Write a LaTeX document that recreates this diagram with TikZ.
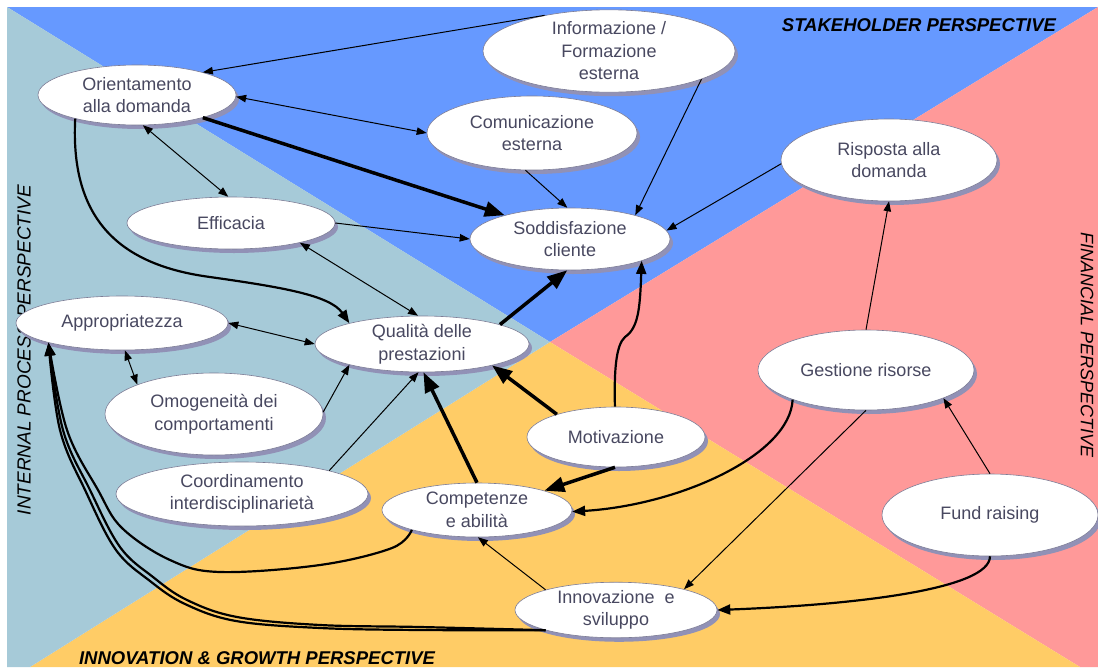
\documentclass[tikz,border=0pt]{standalone}
\usepackage{fontspec}
\setmainfont{Liberation Sans}
\usetikzlibrary{shapes.geometric,arrows.meta,shadows}

\definecolor{skyblue}{RGB}{102,153,255}
\definecolor{rose}{RGB}{255,153,153}
\definecolor{amber}{RGB}{255,204,102}
\definecolor{steel}{RGB}{166,202,216}
\definecolor{shade}{RGB}{145,145,182}
\definecolor{ink}{RGB}{72,72,96}
\definecolor{rim}{RGB}{125,125,150}

\tikzset{
  bubble/.style={ellipse, draw=rim, line width=0.6pt, fill=white, inner sep=0pt,
    align=center, text=ink, font=\fontsize{18}{22.5}\selectfont,
    general shadow={fill=shade, shadow xshift=3pt, shadow yshift=-4pt}},
  lnk/.style={line width=1pt, -{Triangle[length=10pt,width=7.5pt]}},
  lnkb/.style={line width=1pt, {Triangle[length=10pt,width=7.5pt]}-{Triangle[length=10pt,width=7.5pt]}},
  heavy/.style={line width=3.5pt, -{Triangle[length=20pt,width=15pt]}},
  curvy/.style={line width=2.2pt, -{Triangle[length=13pt,width=10pt]}},
  zone/.style={font=\fontsize{19}{21}\selectfont\itshape, text=black},
  zonebold/.style={font=\fontsize{18.5}{20}\selectfont\bfseries\itshape, text=black},
}

\begin{document}
\begin{tikzpicture}[x=1pt, y=-1pt]
  \useasboundingbox (0,0) rectangle (1098,667);
  % four perspective sectors meeting in the middle
  \fill[white] (0,0) rectangle (1098,667);
  \coordinate (mid) at (550,342);
  \fill[skyblue] (7,7) -- (1098,7) -- (mid) -- cycle;
  \fill[rose] (1098,7) -- (1098,667) -- (1080,667) -- (mid) -- cycle;
  \fill[amber] (1080,667) -- (30,667) -- (mid) -- cycle;
  \fill[steel] (7,7) -- (mid) -- (30,667) -- (7,667) -- cycle;

  % perspective titles
  \node[zonebold] (stk) at (919,25) {STAKEHOLDER PERSPECTIVE};
  \node[zonebold] (ing) at (257,658) {INNOVATION \& GROWTH PERSPECTIVE};
  \node[zone, rotate=90] (ipp) at (24,350) {INTERNAL PROCESS PERSPECTIVE};
  \node[font=\fontsize{18}{20}\selectfont\itshape, rotate=-90] (fin) at (1087,345) {FINANCIAL PERSPECTIVE};

  % elements
  \node[bubble, minimum width=198pt, minimum height=60pt] (O) at (137,95) {Orientamento\\alla domanda};
  \node[bubble, minimum width=252pt, minimum height=72pt] (I) at (609,51) {Informazione /\\Formazione\\esterna};
  \node[bubble, minimum width=210pt, minimum height=74pt] (C) at (532,133) {Comunicazione\\esterna};
  \node[bubble, minimum width=208pt, minimum height=52pt] (E) at (231,223) {Efficacia};
  \node[bubble, minimum width=200pt, minimum height=62pt] (S) at (570,239) {Soddisfazione\\cliente};
  \node[bubble, minimum width=216pt, minimum height=82pt] (R) at (889,160) {Risposta alla\\domanda};
  \node[bubble, minimum width=212pt, minimum height=54pt] (A) at (122,323) {Appropriatezza};
  \node[bubble, minimum width=214pt, minimum height=56pt] (Q) at (422,344) {Qualità delle\\prestazioni};
  \node[bubble, minimum width=218pt, minimum height=82pt] (Om) at (214,414) {Omogeneità dei\\comportamenti};
  \node[bubble, minimum width=252pt, minimum height=64pt] (Co) at (242,494) {Coordinamento\\interdisciplinarietà};
  \node[bubble, minimum width=178pt, minimum height=60pt] (M) at (616,437) {Motivazione};
  \node[bubble, minimum width=216pt, minimum height=80pt] (G) at (866,370) {Gestione risorse};
  \node[bubble, minimum width=190pt, minimum height=54pt] (Cp) at (477,510) {Competenze\\e abilità};
  \node[bubble, minimum width=216pt, minimum height=82pt] (F) at (990,515) {Fund raising};
  \node[bubble, minimum width=202pt, minimum height=54pt] (In) at (616,610) {Innovazione~ e\\sviluppo};

  % links
  \draw[lnk] (I.151) -- (O.19);
  \draw[lnk] (I.-17) -- (S.20);
  \draw[lnkb] (O.-1) -- (C.180);
  \draw[lnk] (C.-100) -- (S.95);
  \draw[heavy] (O.-19) -- (S.160);
  \draw[lnkb] (O.-79) -- (E.96);
  \draw[lnk] (E.0) -- (S.180);
  \draw[lnkb] (E.-16) -- (Q.98);
  \draw[curvy] (O.201) .. controls (70,220) and (120,265) .. (210,277)
              .. controls (280,287) and (330,295) .. (Q.164);
  \draw[lnkb] (A.0) -- (Q.180);
  \draw[lnkb] (A.-84) -- (Om.159);
  \draw[lnk] (Om.1) -- (Q.196);
  \draw[lnk] (Co.15) -- (Q.-97);
  \draw[heavy] (Q.14) -- (S.-95);
  \draw[heavy] (Cp.90) -- (Q.-87);
  \draw[heavy] (M.159) -- (Q.-17);
  \draw[curvy] (M.92) .. controls (614,370) and (616,345) .. (625,337)
              .. controls (638,328) and (640,310) .. (S.-17);
  \draw[heavy] (M.-92) -- (Cp.16);
  \draw[curvy] (G.202) .. controls (790,455) and (680,505) .. (Cp.-1);
  \draw[lnk] (G.90) -- (R.-90);
  \draw[lnk] (G.-90) -- (In.17);
  \draw[lnk] (F.90) -- (G.-20);
  \draw[curvy] (F.-90) .. controls (990,590) and (850,605) .. (In.0);
  \draw[lnk] (R.182) -- (S.5);
  \draw[lnk] (In.164) -- (Cp.-88);
  % long sweeps into Appropriatezza
  \draw[curvy] plot[smooth, tension=0.6] coordinates
    {(Cp.197) (392,548) (320,565) (220,572) (170,560) (122,528) (98,490) (67,430) (A.195)};
  \draw[curvy] plot[smooth, tension=0.6] coordinates
    {(In.196) (420,627) (320,625) (237,617) (187,600) (153,577) (120,547) (90,490) (63,430) (A.195)};
  \draw[curvy] plot[smooth, tension=0.6] coordinates
    {(In.196) (420,630) (320,628) (236,621) (185,604) (150,581) (116,550) (86,492) (60,430) (A.195)};
\end{tikzpicture}
\end{document}
